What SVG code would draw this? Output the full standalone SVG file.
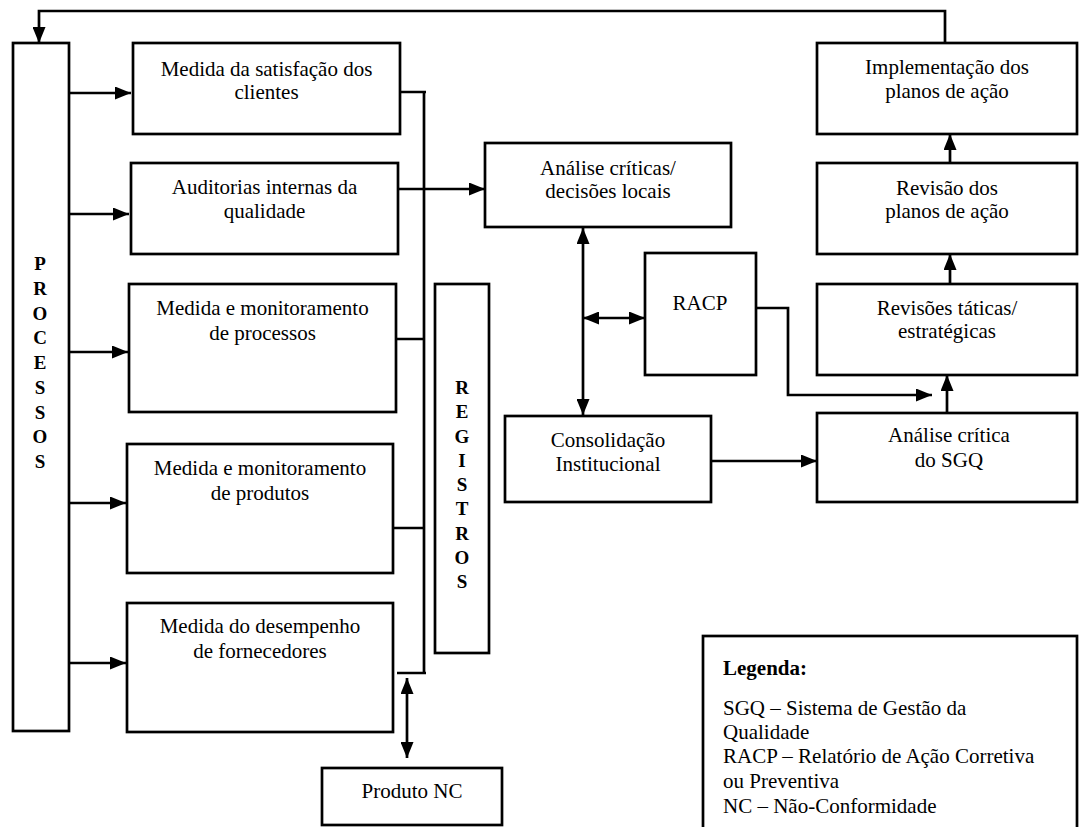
<svg xmlns="http://www.w3.org/2000/svg" width="1080" height="827" viewBox="0 0 1080 827">
  <style>
    .box { fill: #fff; stroke: #000; stroke-width: 2.7; }
    .ln { fill: none; stroke: #000; stroke-width: 2.7; }
    .arr { fill: none; stroke: #000; stroke-width: 2.7; marker-end: url(#ah); }
    .arr2 { fill: none; stroke: #000; stroke-width: 2.7; marker-start: url(#ah); marker-end: url(#ah); }
    text { font-family: "Liberation Serif", "Times New Roman", serif; font-size: 21px; fill: #000; }
    .c { text-anchor: middle; }
    .v { font-weight: bold; font-size: 19px; text-anchor: middle; }
  </style>
  <defs>
    <marker id="ah" viewBox="0 0 16 13" refX="16" refY="6.5" markerWidth="16" markerHeight="13" markerUnits="userSpaceOnUse" orient="auto-start-reverse">
      <path d="M0,0 L16,6.5 L0,13 z" fill="#000"/>
    </marker>
  </defs>
  <rect width="1080" height="827" fill="#fff"/>

  <!-- connectors -->
  <g id="connectors">
    <path class="arr" d="M945,43 V11 H39 V43"/>
    <path class="arr" d="M69,93 H131"/>
    <path class="arr" d="M69,214 H129"/>
    <path class="arr" d="M69,352 H128"/>
    <path class="arr" d="M69,503 H126"/>
    <path class="arr" d="M69,663 H126"/>
    <path class="ln" d="M400,92 H426 M424,92 V673 M396,339 H424 M393,528 H424 M397,673 H426"/>
    <path class="arr" d="M398,189 H485"/>
    <path class="arr2" d="M583,228 V415"/>
    <path class="arr2" d="M583,318 H645"/>
    <path class="arr" d="M756,308 H788 V395 H932"/>
    <path class="arr" d="M711,461 H817"/>
    <path class="arr" d="M947,413 V375"/>
    <path class="arr" d="M950,284 V254"/>
    <path class="arr" d="M950,163 V134"/>
    <path class="arr2" d="M407,678 V758"/>
  </g>

  <g id="processos">
    <rect class="box" x="13" y="43" width="56" height="688"/>
    <text class="v" x="40" y="270">P</text>
    <text class="v" x="40" y="294.75">R</text>
    <text class="v" x="40" y="319.5">O</text>
    <text class="v" x="40" y="344.25">C</text>
    <text class="v" x="40" y="369">E</text>
    <text class="v" x="40" y="393.75">S</text>
    <text class="v" x="40" y="418.5">S</text>
    <text class="v" x="40" y="443.25">O</text>
    <text class="v" x="40" y="468">S</text>
  </g>

  <g id="satisfacao">
    <rect class="box" x="133" y="43" width="267" height="91"/>
    <text class="c" x="266.5" y="76">Medida da satisfação dos</text>
    <text class="c" x="266.5" y="99">clientes</text>
  </g>

  <g id="auditorias">
    <rect class="box" x="131" y="163" width="267" height="91"/>
    <text class="c" x="264.5" y="194">Auditorias internas da</text>
    <text class="c" x="264.5" y="218">qualidade</text>
  </g>

  <g id="mon-processos">
    <rect class="box" x="129" y="284" width="267" height="128"/>
    <text class="c" x="262.5" y="315">Medida e monitoramento</text>
    <text class="c" x="262.5" y="340">de processos</text>
  </g>

  <g id="mon-produtos">
    <rect class="box" x="127" y="444" width="266" height="129"/>
    <text class="c" x="260" y="475">Medida e monitoramento</text>
    <text class="c" x="260" y="500">de produtos</text>
  </g>

  <g id="fornecedores">
    <rect class="box" x="127" y="603" width="266" height="129"/>
    <text class="c" x="260" y="633">Medida do desempenho</text>
    <text class="c" x="260" y="658">de fornecedores</text>
  </g>

  <g id="registros">
    <rect class="box" x="435" y="284" width="54" height="369"/>
    <text class="v" x="462" y="394">R</text>
    <text class="v" x="462" y="418.25">E</text>
    <text class="v" x="462" y="442.5">G</text>
    <text class="v" x="462" y="466.75">I</text>
    <text class="v" x="462" y="491">S</text>
    <text class="v" x="462" y="515.25">T</text>
    <text class="v" x="462" y="539.5">R</text>
    <text class="v" x="462" y="563.75">O</text>
    <text class="v" x="462" y="588">S</text>
  </g>

  <g id="produto-nc">
    <rect class="box" x="322" y="768" width="180" height="57"/>
    <text class="c" x="412" y="798">Produto NC</text>
  </g>

  <g id="analise-local">
    <rect class="box" x="485" y="143" width="246" height="84"/>
    <text class="c" x="608" y="175">Análise críticas/</text>
    <text class="c" x="608" y="198">decisões locais</text>
  </g>

  <g id="racp">
    <rect class="box" x="645" y="253" width="111" height="122"/>
    <text class="c" x="700" y="310">RACP</text>
  </g>

  <g id="consolidacao">
    <rect class="box" x="505" y="416" width="206" height="86"/>
    <text class="c" x="608" y="447">Consolidação</text>
    <text class="c" x="608" y="471">Institucional</text>
  </g>

  <g id="implementacao">
    <rect class="box" x="817" y="43" width="260" height="91"/>
    <text class="c" x="947" y="74">Implementação dos</text>
    <text class="c" x="947" y="98">planos de ação</text>
  </g>

  <g id="revisao">
    <rect class="box" x="817" y="163" width="260" height="91"/>
    <text class="c" x="947" y="195">Revisão dos</text>
    <text class="c" x="947" y="218">planos de ação</text>
  </g>

  <g id="revisoes">
    <rect class="box" x="817" y="284" width="260" height="91"/>
    <text class="c" x="947" y="315">Revisões táticas/</text>
    <text class="c" x="947" y="338">estratégicas</text>
  </g>

  <g id="analise-sgq">
    <rect class="box" x="817" y="413" width="260" height="89"/>
    <text class="c" x="949" y="442">Análise crítica</text>
    <text class="c" x="949" y="467">do SGQ</text>
  </g>

  <g id="legenda">
    <rect class="box" x="703" y="636" width="374" height="220"/>
    <text x="723" y="675" font-weight="bold">Legenda:</text>
    <text x="723" y="715">SGQ – Sistema de Gestão da</text>
    <text x="723" y="739">Qualidade</text>
    <text x="723" y="763">RACP – Relatório de Ação Corretiva</text>
    <text x="723" y="788">ou Preventiva</text>
    <text x="723" y="813">NC – Não-Conformidade</text>
  </g>
</svg>
